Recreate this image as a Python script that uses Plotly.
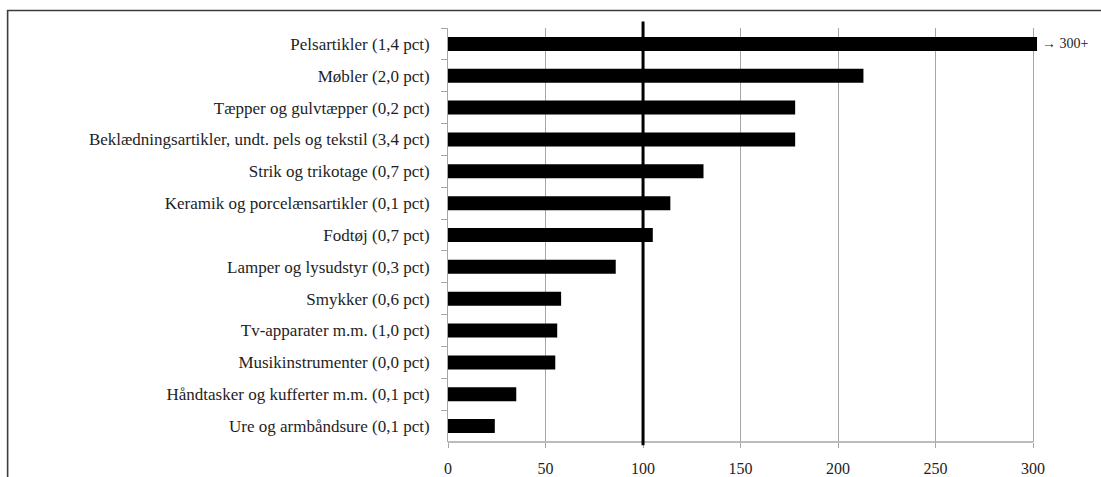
import plotly.graph_objects as go

# Categories listed top to bottom, with their import share in parentheses
categories = [
    "Pelsartikler (1,4 pct)",
    "Møbler (2,0 pct)",
    "Tæpper og gulvtæpper (0,2 pct)",
    "Beklædningsartikler, undt. pels og tekstil (3,4 pct)",
    "Strik og trikotage (0,7 pct)",
    "Keramik og porcelænsartikler (0,1 pct)",
    "Fodtøj (0,7 pct)",
    "Lamper og lysudstyr (0,3 pct)",
    "Smykker (0,6 pct)",
    "Tv-apparater m.m. (1,0 pct)",
    "Musikinstrumenter (0,0 pct)",
    "Håndtasker og kufferter m.m. (0,1 pct)",
    "Ure og armbåndsure (0,1 pct)",
]
values = [302, 213, 178, 178, 131, 114, 105, 86, 58, 56, 55, 35, 24]
x_ticks = [0, 50, 100, 150, 200, 250, 300]
reference_level = 100
overflow_label = "→ 300+"

FONT = "'Liberation Serif', 'Times New Roman', 'DejaVu Serif', serif"
TEXT = "#1e1e1e"
GRID = "#a6a6a6"

fig = go.Figure(
    go.Bar(
        x=values,
        y=categories,
        orientation="h",
        marker=dict(color="#000000", line=dict(width=0)),
        hoverinfo="skip",
    )
)

fig.update_layout(
    width=1101,
    height=477,
    margin=dict(l=448, r=63, t=28, b=35),
    paper_bgcolor="white",
    plot_bgcolor="white",
    bargap=0.56,
    showlegend=False,
    font=dict(family=FONT, size=16, color=TEXT),
)

fig.update_xaxes(
    range=[0, 302.5],
    tickvals=x_ticks,
    ticktext=[str(v) for v in x_ticks],
    automargin=False,
    showgrid=True,
    gridcolor=GRID,
    gridwidth=1,
    zeroline=False,
    showline=False,
    ticks="outside",
    ticklen=5,
    tickcolor=GRID,
    ticklabelstandoff=7,
    tickfont=dict(family=FONT, size=16, color=TEXT),
)

fig.update_yaxes(
    autorange="reversed",
    type="category",
    automargin=False,
    showgrid=False,
    zeroline=False,
    showline=True,
    linecolor=GRID,
    linewidth=1,
    ticks="outside",
    tickson="boundaries",
    ticklen=6,
    tickcolor=GRID,
    ticklabelstandoff=14,
    tickfont=dict(family=FONT, size=17, color=TEXT),
)

# Horizontal axis line, running from 0 to 300
fig.add_shape(
    type="line", xref="x", yref="paper",
    x0=0, x1=300, y0=0, y1=0,
    line=dict(color=GRID, width=1.5),
    layer="above",
)

# Index-100 reference line
fig.add_shape(
    type="line", xref="x", yref="paper",
    x0=reference_level, x1=reference_level, y0=-0.008, y1=1.016,
    line=dict(color="#000000", width=3),
    layer="above",
)

# Outer frame (top and left edges visible)
fig.add_shape(
    type="rect", xref="paper", yref="paper",
    x0=-0.7464, x1=1.2, y0=-0.3, y1=1.0423,
    line=dict(color="#3c3c3c", width=1.6),
    fillcolor="rgba(0,0,0,0)",
    layer="above",
)

# Overflow marker for the truncated bar
fig.add_annotation(
    x=values[0], y=categories[0], xref="x", yref="y",
    text=overflow_label, showarrow=False,
    xanchor="left", xshift=3,
    font=dict(family=FONT, size=14, color=TEXT),
)

fig.write_html("out.html")
